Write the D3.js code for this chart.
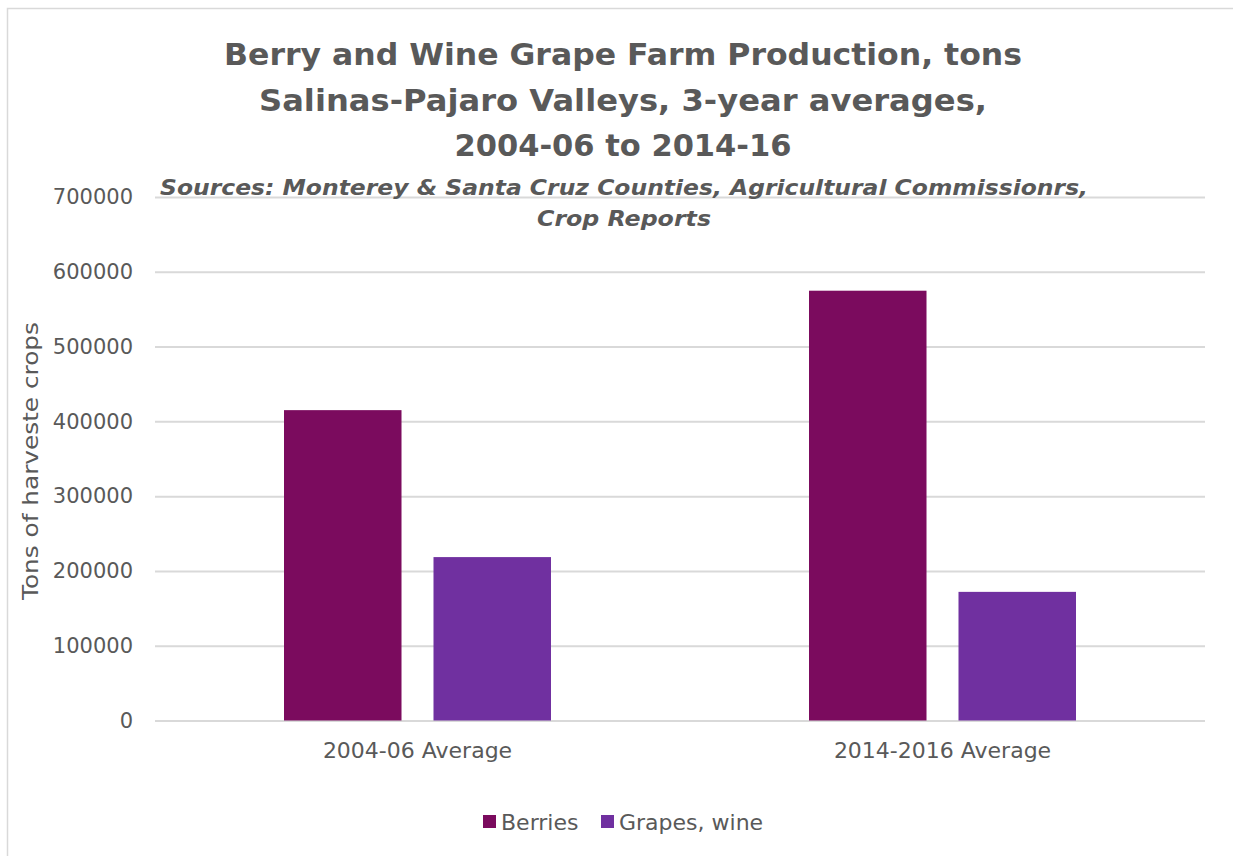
<!DOCTYPE html>
<html><head><meta charset="utf-8">
<script src="https://cdn.jsdelivr.net/npm/d3@7"></script>
<style>
html,body{margin:0;padding:0;background:#fff;}
text{font-family:"DejaVu Sans",sans-serif;fill:#595959;}
</style></head>
<body><svg id="c" width="1233" height="856"></svg>
<script>
const categories = ["2004-06 Average", "2014-2016 Average"];
const seriesNames = ["Berries", "Grapes, wine"];
const berries = [415000, 574700];
const grapesWine = [218500, 172000];
const yTicks = [0, 100000, 200000, 300000, 400000, 500000, 600000, 700000];
const colors = ["#7B0B5E", "#7030A0"];
const titleLines = ["Berry and Wine Grape Farm Production, tons", "Salinas-Pajaro Valleys, 3-year averages,", "2004-06 to 2014-16"];
const subtitleLines = ["Sources: Monterey & Santa Cruz Counties, Agricultural Commissionrs,", "Crop Reports"];
const yTitle = "Tons of harveste crops";

const svg = d3.select("#c");
const m = {left:155, right:1205, top:197, bottom:720.5};

// border
svg.append("rect").attr("x",7.5).attr("y",8.5).attr("width",1240).attr("height",900)
  .attr("fill","none").attr("stroke","#d9d9d9").attr("stroke-width",1.5);

const xc = d3.scaleBand().domain(categories).range([m.left, m.right]);
const groupW = 267;
const x1 = d3.scaleBand().domain(seriesNames).range([0, groupW]).paddingInner(0.214);
const y = d3.scaleLinear().domain([0, 700000]).range([m.bottom, m.top]);

// gridlines + y labels
const yAxis = d3.axisLeft(y).tickValues(yTicks).tickFormat(d3.format("d")).tickSize(-(m.right-m.left)).tickPadding(22);
const ga = svg.append("g").attr("transform",`translate(${m.left},0)`).call(yAxis);
ga.select(".domain").remove();
ga.selectAll(".tick line").attr("stroke","#d9d9d9").attr("stroke-width",2);
ga.selectAll(".tick text").attr("font-size",21).style("fill","#595959").attr("font-family","DejaVu Sans, sans-serif");

// bars
const data = categories.map((c,i)=>({cat:c, vals:[berries[i], grapesWine[i]]}));
const groups = svg.append("g").selectAll("g").data(data).join("g")
  .attr("transform", d=>`translate(${xc(d.cat)+(xc.bandwidth()-groupW)/2},0)`);
groups.selectAll("rect").data(d=>d.vals.map((v,j)=>({s:seriesNames[j], v, j}))).join("rect")
  .attr("x", d=>x1(d.s)).attr("width", x1.bandwidth())
  .attr("y", d=>y(d.v)).attr("height", d=>y(0)-y(d.v))
  .attr("fill", d=>colors[d.j]);

// x axis labels
const xAxis = d3.axisBottom(xc).tickSize(0).tickPadding(22);
const gx = svg.append("g").attr("transform",`translate(0,${m.bottom})`).call(xAxis);
gx.select(".domain").remove();
gx.selectAll(".tick text").attr("font-size",22).style("fill","#595959").attr("font-family","DejaVu Sans, sans-serif");

// title
const titleW = [798, 728, 337];
svg.append("g").selectAll("text").data(titleLines).join("text")
  .attr("x",623).attr("y",(d,i)=>65+i*45.5).attr("text-anchor","middle")
  .attr("font-size",31).attr("font-weight","bold")
  .attr("textLength",(d,i)=>titleW[i]).attr("lengthAdjust","spacingAndGlyphs").text(d=>d);
const subW = [928, 174];
svg.append("g").selectAll("text").data(subtitleLines).join("text")
  .attr("x",624).attr("y",(d,i)=>195+i*31).attr("text-anchor","middle")
  .attr("font-size",22).attr("font-weight","bold").attr("font-style","italic")
  .attr("textLength",(d,i)=>subW[i]).attr("lengthAdjust","spacingAndGlyphs").text(d=>d);

// y title
svg.append("text").attr("transform","translate(38,461) rotate(-90)").attr("text-anchor","middle")
  .attr("font-size",22).attr("textLength",278).attr("lengthAdjust","spacingAndGlyphs").text(yTitle);

// legend
const leg = svg.append("g");
const legX = [483, 601];
seriesNames.forEach((s,i)=>{
  leg.append("rect").attr("x",legX[i]).attr("y",815).attr("width",13).attr("height",13).attr("fill",colors[i]);
  leg.append("text").attr("x",legX[i]+18).attr("y",830).attr("font-size",22).text(s);
});
</script></body></html>
